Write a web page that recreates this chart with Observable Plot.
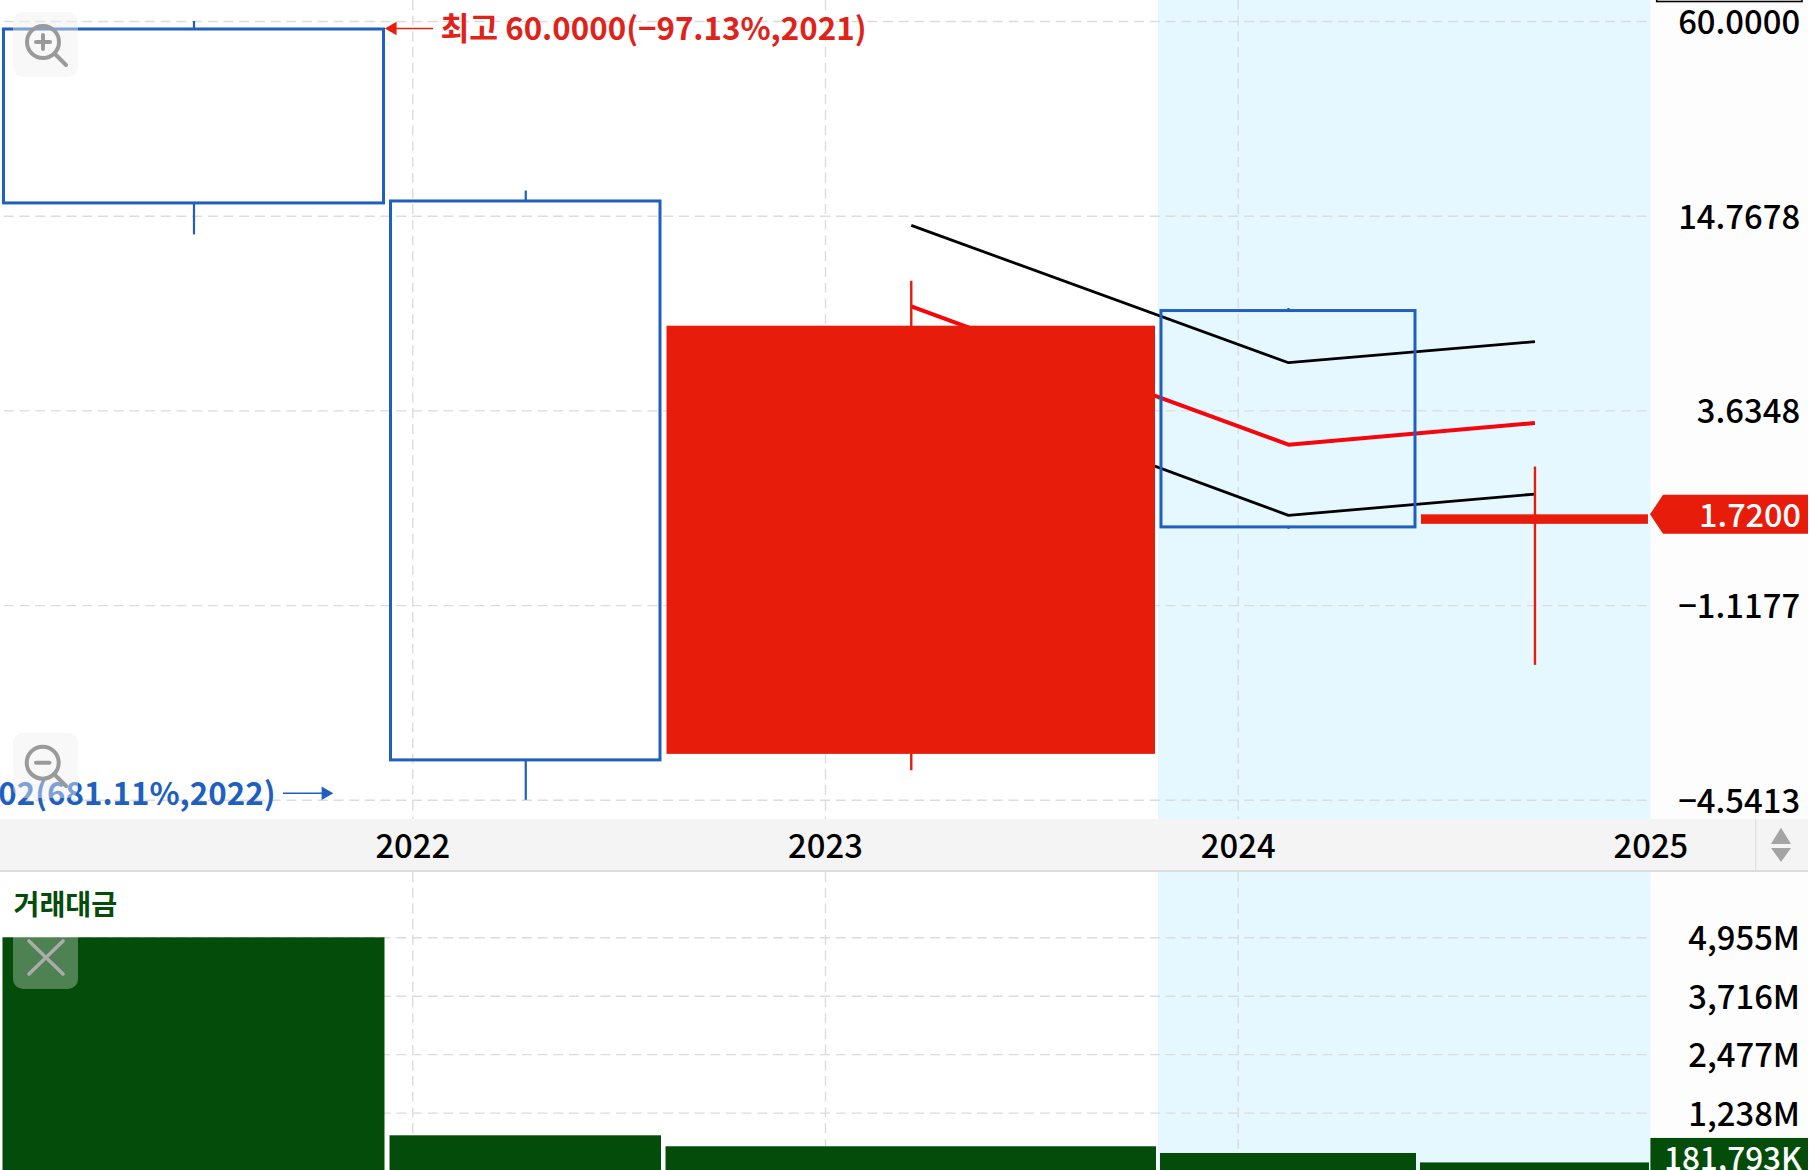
<!DOCTYPE html>
<html><head><meta charset="utf-8">
<script src="https://cdn.jsdelivr.net/npm/d3@7"></script>
<script src="https://cdn.jsdelivr.net/npm/@observablehq/plot@0.6"></script>
<style>
html,body{margin:0;padding:0;background:#fff;overflow:hidden}
#chart{position:relative;width:1811px;height:1170px;overflow:hidden;font-family:"Noto Sans CJK KR","Noto Sans",sans-serif}
#chart svg{display:block}
#over{position:absolute;left:0;top:0;pointer-events:none}
</style></head><body><div id="chart"></div>
<script>
const periods = [2021, 2022, 2023, 2024, 2025];
const xStart = [2021.0094, 2021.9472, 2022.6160, 2023.8141, 2024.4441];
const xEnd   = [2021.9302, 2022.6002, 2023.7996, 2024.4296, 2024.9941];
const open  = [56.64, 16.42, 0.3065, 7.46, 1.606];
const close = [16.19, 0.2935, 6.69, 1.571, 1.72];
const high  = [60, 17.71, 9.25, 7.6, 2.426];
const low   = [12.91, 0.2202, 0.2723, 1.548, 0.5819];
const volume = [4955, 757, 524, 382, 181.793];
const upperBand = [13.82, 5.142, 5.983];
const midBand   = [7.71, 2.85, 3.33];
const lowerBand = [4.66, 1.713, 1.997];
const priceTicks = [60, 14.7678, 3.6348, 0.8946, 0.2202];
const priceLabels = ["60.0000", "14.7678", "3.6348", "−1.1177", "−4.5413"];
const volumeTicks = [4955, 3716, 2477, 1238];
const yearTicks = [2022, 2023, 2024, 2025];
const highlight = [2023.8069, 2025];
const highLabel = "최고 60.0000(−97.13%,2021)";
const lowLabel = "최저 0.2202(681.11%,2022)";
const lastPrice = "1.7200";
const lastVolume = "181,793K";
const volumeTitle = "거래대금";

const BLUE = "#1f5fbf", RED = "#e81c0a", GREEN = "#034c09", BAND = "#e5f8ff", GRID = "#dcdcdc", FONT = '"Noto Sans CJK KR","Noto Sans",sans-serif';
const FS = 32.8;
const candles = periods.map((p, i) => ({p, x1: xStart[i], x2: xEnd[i], xc: (xStart[i] + xEnd[i]) / 2, o: open[i], c: close[i], h: high[i], l: low[i], top: Math.max(open[i], close[i]), bot: Math.min(open[i], close[i]), v: volume[i]}));
const up = candles.filter(d => d.c > d.o), down = candles.filter(d => d.c <= d.o);
const xOpt = {domain: [2021, 2025], range: [-0.4, 1650.4], axis: null};
const dash = "10,5.7";
const paneBg = "linear-gradient(to right,#fff 1650.4px,#fdfdfd 1650.4px,#fdfdfd 1808px,#fff 1808px)";
const labelMap = new Map(priceTicks.map((t, i) => [t, priceLabels[i]]));
const bandX = [candles[2].xc, candles[3].xc, candles[4].xc];
const lineRows = a => a.map((v, i) => ({x: bandX[i], v}));

const main = Plot.plot({
  width: 1811, height: 819, marginLeft: 0, marginRight: 161, marginTop: 0, marginBottom: 0,
  style: {fontFamily: FONT, background: paneBg},
  x: xOpt,
  y: {type: "log", domain: [0.2202, 60], range: [799.8, 21], axis: null, label: null},
  marks: [
    Plot.rect([highlight], {x1: d => d[0], x2: d => d[1], fill: BAND}),
    Plot.ruleY(priceTicks, {x1: 2021.01, x2: 2024.995, stroke: GRID, strokeWidth: 1.4, strokeDasharray: dash}),
    Plot.gridX(yearTicks.slice(0, 3), {stroke: GRID, strokeOpacity: 1, strokeWidth: 1.4, strokeDasharray: dash}),
    Plot.line(lineRows(upperBand), {x: "x", y: "v", stroke: "#000", strokeWidth: 2.8, strokeLinecap: "butt"}),
    Plot.line(lineRows(lowerBand), {x: "x", y: "v", stroke: "#000", strokeWidth: 2.8, strokeLinecap: "butt"}),
    Plot.line(lineRows(midBand), {x: "x", y: "v", stroke: "#f5060c", strokeWidth: 4, strokeLinecap: "butt"}),
    Plot.ruleX(down, {x: "xc", y1: "top", y2: "h", stroke: BLUE, strokeWidth: 2.2}),
    Plot.ruleX(down, {x: "xc", y1: "bot", y2: "l", stroke: BLUE, strokeWidth: 2.2}),
    Plot.ruleX(up, {x: "xc", y1: "l", y2: "h", stroke: RED, strokeWidth: 2.4}),
    Plot.rect(down, {x1: "x1", x2: "x2", y1: "o", y2: "c", fill: "none", stroke: BLUE, strokeWidth: 3}),
    Plot.rect(up, {x1: "x1", x2: "x2", y1: "o", y2: "c", fill: RED}),
    Plot.ruleY([60], {x1: 2021.950, x2: 2022.0502, dy: 7, stroke: RED, strokeWidth: 1.6}),
    Plot.dot([{x: 2021.9513, y: 60}], {x: "x", y: "y", dy: 7, symbol: "triangle", r: 5, rotate: -90, fill: RED}),
    Plot.text([highLabel], {x: 2022.0671, y: 60, dy: 8, text: d => d, textAnchor: "start", fill: "#e0231a", fontSize: 31.3, fontWeight: 600}),
    Plot.ruleY([0.2202], {x1: 2021.6867, x2: 2021.785, dy: -7, stroke: BLUE, strokeWidth: 1.6}),
    Plot.dot([{x: 2021.7885, y: 0.2202}], {x: "x", y: "y", dy: -7, symbol: "triangle", r: 5, rotate: 90, fill: BLUE}),
    Plot.text([lowLabel], {x: 2021.6673, y: 0.2202, dy: -5, text: d => d, textAnchor: "end", fill: BLUE, fontSize: 31.3, fontWeight: 600}),
    Plot.axisY(priceTicks, {anchor: "right", label: null, tickSize: 0, tickPadding: 149.6, dy: 2, textAnchor: "end", tickFormat: d => labelMap.get(d), fontSize: FS, fontWeight: 500, fill: "#000"})
  ]
});

const strip = Plot.plot({
  width: 1808, height: 51, marginLeft: 0, marginRight: 158, marginTop: 0, marginBottom: 36,
  style: {fontFamily: FONT, background: "#f4f4f4", borderBottom: "2px solid #dcdcdc", boxSizing: "content-box"},
  x: xOpt,
  marks: [
    Plot.axisX(yearTicks, {anchor: "bottom", label: null, tickSize: 0, tickPadding: 0, tickFormat: d => String(d), fontSize: FS, fontWeight: 500, fill: "#000"})
  ]
});

const vol = Plot.plot({
  width: 1811, height: 298, marginLeft: 0, marginRight: 161, marginTop: 0, marginBottom: 0,
  style: {fontFamily: FONT, background: paneBg},
  x: xOpt,
  y: {domain: [0, 4955], range: [299, 65.3], axis: null, label: null},
  marks: [
    Plot.rect([highlight], {x1: d => d[0], x2: d => d[1], fill: BAND}),
    Plot.ruleY(volumeTicks, {x1: 2021.01, x2: 2024.995, stroke: GRID, strokeWidth: 1.4, strokeDasharray: dash}),
    Plot.gridX(yearTicks.slice(0, 3), {stroke: GRID, strokeOpacity: 1, strokeWidth: 1.4, strokeDasharray: dash}),
    Plot.rect(candles, {x1: "x1", x2: "x2", y1: 0, y2: "v", fill: GREEN, insetLeft: -1, insetRight: -1}),
    Plot.text([volumeTitle], {frameAnchor: "top-left", dx: 13, dy: 22, text: d => d, lineAnchor: "top", textAnchor: "start", fill: GREEN, fontSize: 28.2, fontWeight: 700}),
    Plot.axisY(volumeTicks, {anchor: "right", label: null, tickSize: 0, tickPadding: 149.6, dy: 2, textAnchor: "end", tickFormat: d => d3.format(",")(d) + "M", fontSize: FS, fontWeight: 500, fill: "#000"})
  ]
});

const yP = main.scale("y").apply(close[4]);
const svgMain = d3.select(main);
svgMain.append("path").attr("d", `M1650,${yP}L1663,${yP-19.5}H1808V${yP+19.5}H1663Z`).attr("fill", RED);
svgMain.append("text").attr("x", 1801).attr("y", yP+1).attr("dy", "0.36em").attr("text-anchor", "end").attr("fill", "#fff").attr("font-size", 32.4).attr("font-weight", 500).text(lastPrice);
svgMain.append("rect").attr("x", 1656.7).attr("y", -30).attr("width", 145.3).attr("height", 31.5).attr("fill", "#fff").attr("stroke", "#000").attr("stroke-width", 1.6);
const yV = vol.scale("y").apply(volume[4]) - 5;
const svgVol = d3.select(vol);
svgVol.append("rect").attr("x", 1650.4).attr("y", yV-19.5).attr("width", 157.6).attr("height", 39).attr("fill", GREEN);
svgVol.append("text").attr("x", 1802).attr("y", yV+1).attr("dy", "0.36em").attr("text-anchor", "end").attr("fill", "#fff").attr("font-size", 31.5).attr("font-weight", 500).text(lastVolume);

const chart = document.getElementById("chart");
chart.append(main, strip, vol);

const ns = "http://www.w3.org/2000/svg";
const over = document.createElementNS(ns, "svg");
over.setAttribute("id", "over"); over.setAttribute("width", 1811); over.setAttribute("height", 1170);
over.innerHTML = `
<rect x="13" y="12" width="65" height="65" rx="10" fill="#f0f0f0" fill-opacity=".45"/>
<g fill="none" stroke="#9a9a9a" stroke-width="4" stroke-linecap="round">
<circle cx="43" cy="42" r="16"/><path d="M54.5 53.5L66 65M36 42H50M43 35V49"/></g>
<rect x="13" y="733" width="65" height="65" rx="10" fill="#f0f0f0" fill-opacity=".45"/>
<g fill="none" stroke="#9a9a9a" stroke-width="4" stroke-linecap="round">
<circle cx="42.7" cy="762.7" r="16"/><path d="M54 774L66 786M36 762.7H49.5"/></g>
<rect x="13" y="924" width="65" height="65" rx="10" fill="#fff" fill-opacity=".3"/>
<path d="M29 941L63 974M63 941L29 974" stroke="#ababab" stroke-width="3.6" stroke-linecap="round" fill="none"/>
<path d="M1755.7 819V870" stroke="#dedede" stroke-width="1.2"/>
<path d="M1781 827.7L1791 844H1771ZM1781 862L1791 848H1771Z" fill="#a4a4a4"/>`;
chart.append(over);
</script></body></html>
